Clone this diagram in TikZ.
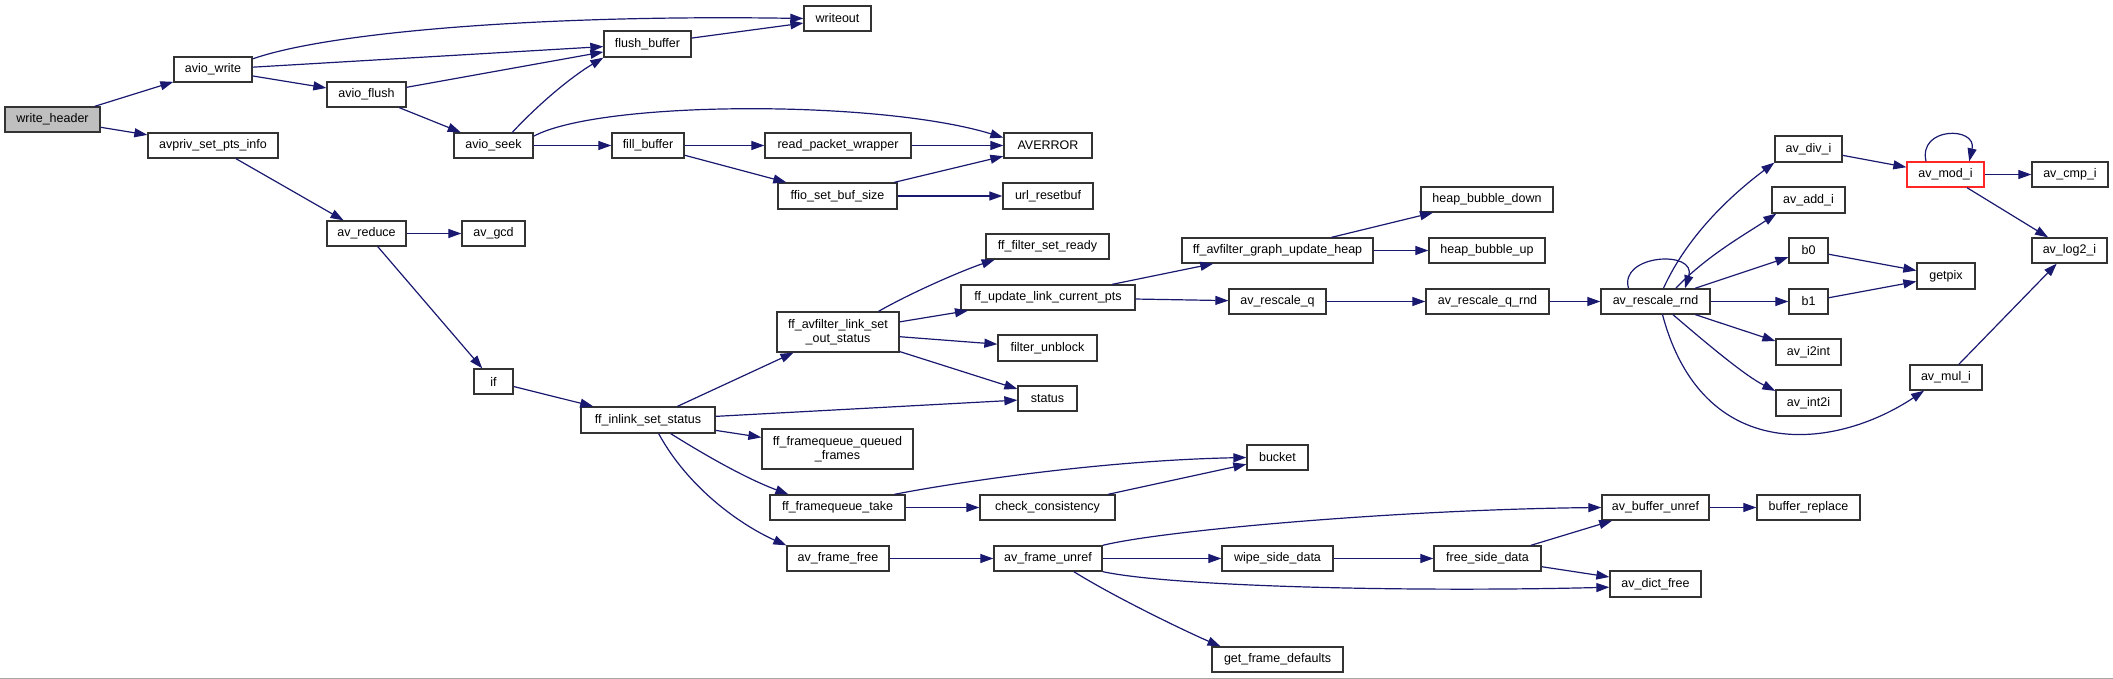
\documentclass[tikz,border=0pt]{standalone}
\usepackage{fontspec}
\setmainfont{Liberation Sans}
\usepackage{xcolor}
\usepackage{tikz}
\usetikzlibrary{arrows.meta}

\definecolor{navy}{HTML}{191970}

\begin{document}
\begin{tikzpicture}[
    x=1pt, y=-1pt,
    fn/.style={rectangle, draw=black!80, fill=white, line width=1.3pt, inner sep=0pt, minimum height=25pt, align=center, font=\fontsize{12.5}{14.5}\selectfont},
    root/.style={fn, fill=black!25},
    rec/.style={fn, draw=red!85!white},
    call/.style={-{Triangle[length=13pt, width=9pt]}, line width=1.2pt, draw=navy}
]
    \useasboundingbox (0,0) rectangle (2113,679);

    % callers on the left
    \node [root, minimum width=95pt] (writeheader) at (52.5,119.5) {write\_header};
    \node [fn, minimum width=78pt] (aviowrite) at (213,69.5) {avio\_write};
    \node [fn, minimum width=130pt] (avprivset) at (213,145.5) {avpriv\_set\_pts\_info};
    \node [fn, minimum width=79pt] (avioflush) at (366.5,94.5) {avio\_flush};
    \node [fn, minimum width=79pt] (avioseek) at (493.5,145.5) {avio\_seek};
    \node [fn, minimum width=87pt, minimum height=26pt] (flushbuf) at (647.5,44) {flush\_buffer};
    \node [fn, minimum width=67pt] (writeout) at (837.5,18.5) {writeout};
    \node [fn, minimum width=72pt] (fillbuf) at (648,145.5) {fill\_buffer};
    \node [fn, minimum width=146pt] (readpkt) at (838,145.5) {read\_packet\_wrapper};
    \node [fn, minimum width=88pt] (averror) at (1048,145.5) {AVERROR};
    \node [fn, minimum width=119pt, minimum height=26pt] (setbufsize) at (837.5,196) {ffio\_set\_buf\_size};
    \node [fn, minimum width=90pt, minimum height=26pt] (resetbuf) at (1048,196) {url\_resetbuf};
    \node [fn, minimum width=79pt] (avreduce) at (366.5,233.5) {av\_reduce};
    \node [fn, minimum width=63pt] (avgcd) at (493.5,233.5) {av\_gcd};
    \node [fn, minimum width=39pt] (iff) at (493.5,381.5) {if};

    % filter link part
    \node [fn, minimum width=134pt, minimum height=26pt] (inlinkset) at (648,420) {ff\_inlink\_set\_status};
    \node [fn, minimum width=122pt, minimum height=40pt] (linkset) at (838,332) {ff\_avfilter\_link\_set\\\_out\_status};
    \node [fn, minimum width=123pt] (setready) at (1047.5,246.5) {ff\_filter\_set\_ready};
    \node [fn, minimum width=174pt] (updatepts) at (1048,297.5) {ff\_update\_link\_current\_pts};
    \node [fn, minimum width=99pt, minimum height=26pt] (unblock) at (1047.5,348) {filter\_unblock};
    \node [fn, minimum width=59pt] (status) at (1047.5,398.5) {status};
    \node [fn, minimum width=151pt, minimum height=40pt] (queued) at (837.5,449) {ff\_framequeue\_queued\\\_frames};
    \node [fn, minimum width=135pt] (fqtake) at (837.5,507.5) {ff\_framequeue\_take};
    \node [fn, minimum width=135pt] (consistency) at (1047.5,507.5) {check\_consistency};
    \node [fn, minimum width=61pt] (bucket) at (1277.5,457.5) {bucket};

    % frame part
    \node [fn, minimum width=102pt] (framefree) at (838,558.5) {av\_frame\_free};
    \node [fn, minimum width=108pt] (frameunref) at (1048,558.5) {av\_frame\_unref};
    \node [fn, minimum width=111pt] (wipeside) at (1277.5,558.5) {wipe\_side\_data};
    \node [fn, minimum width=107pt] (freeside) at (1487.5,558.5) {free\_side\_data};
    \node [fn, minimum width=107pt] (bufunref) at (1655.5,507.5) {av\_buffer\_unref};
    \node [fn, minimum width=103pt] (bufreplace) at (1808.5,507.5) {buffer\_replace};
    \node [fn, minimum width=91pt, minimum height=26pt] (dictfree) at (1655.5,584) {av\_dict\_free};
    \node [fn, minimum width=131pt] (defaults) at (1277.5,659.5) {get\_frame\_defaults};

    % rescale and integer part
    \node [fn, minimum width=191pt] (updateheap) at (1277.5,250.5) {ff\_avfilter\_graph\_update\_heap};
    \node [fn, minimum width=132pt] (bubbledown) at (1487,199.5) {heap\_bubble\_down};
    \node [fn, minimum width=116pt] (bubbleup) at (1487,250.5) {heap\_bubble\_up};
    \node [fn, minimum width=97pt] (rescaleq) at (1277.5,301.5) {av\_rescale\_q};
    \node [fn, minimum width=123pt] (rescaleqrnd) at (1487.5,301.5) {av\_rescale\_q\_rnd};
    \node [fn, minimum width=109pt] (rescalernd) at (1655.5,301.5) {av\_rescale\_rnd};
    \node [fn, minimum width=67pt, minimum height=26pt] (divi) at (1808.5,149) {av\_div\_i};
    \node [fn, minimum width=73pt, minimum height=26pt] (addi) at (1808.5,200) {av\_add\_i};
    \node [fn, minimum width=39pt] (bzero) at (1808.5,250.5) {b0};
    \node [fn, minimum width=39pt] (bone) at (1808.5,301.5) {b1};
    \node [fn, minimum width=65pt, minimum height=26pt] (itoint) at (1808.5,352) {av\_i2int};
    \node [fn, minimum width=65pt, minimum height=26pt] (inttoi) at (1808.5,403) {av\_int2i};
    \node [rec, minimum width=77pt] (modi) at (1945.5,174.5) {av\_mod\_i};
    \node [fn, minimum width=58pt, minimum height=26pt] (getpix) at (1946,276) {getpix};
    \node [fn, minimum width=72pt] (muli) at (1946,377.5) {av\_mul\_i};
    \node [fn, minimum width=76pt] (cmpi) at (2070,174.5) {av\_cmp\_i};
    \node [fn, minimum width=75pt] (logtwoi) at (2069.5,250.5) {av\_log2\_i};

    % calls
    \draw [call] (writeheader) -- (aviowrite);
    \draw [call] (writeheader) -- (avprivset);
    \draw [call] (aviowrite.15) .. controls +(80,-28) and +(-250,-4) .. (writeout.west);
    \draw [call] (aviowrite) -- (flushbuf);
    \draw [call] (aviowrite) -- (avioflush);
    \draw [call] (avioflush) -- (flushbuf);
    \draw [call] (avioflush) -- (avioseek);
    \draw [call] (avioseek.35) .. controls +(30,-32) and +(-30,18) .. (flushbuf.south west);
    \draw [call] (avioseek.13) .. controls +(67,-36) and +(-124,-38) .. (averror.170);
    \draw [call] (avioseek) -- (fillbuf);
    \draw [call] (flushbuf) -- (writeout);
    \draw [call] (fillbuf) -- (readpkt);
    \draw [call] (fillbuf) -- (setbufsize);
    \draw [call] (readpkt) -- (averror);
    \draw [call] (setbufsize) -- (averror);
    \draw [call] (setbufsize) -- (resetbuf);
    \draw [call] (avprivset) -- (avreduce);
    \draw [call] (avreduce) -- (avgcd);
    \draw [call] (avreduce) -- (iff);
    \draw [call] (iff) -- (inlinkset);

    \draw [call] (inlinkset) -- (linkset);
    \draw [call] (inlinkset) -- (status);
    \draw [call] (inlinkset) -- (queued);
    \draw [call] (inlinkset.329) .. controls +(40,25) and +(-40,-15) .. (fqtake.165);
    \draw [call] (inlinkset.308) .. controls +(30,55) and +(-45,-20) .. (framefree.north west);
    \draw [call] (linkset.27) .. controls +(35,-20) and +(-30,10) .. (setready.194);
    \draw [call] (linkset) -- (updatepts);
    \draw [call] (linkset) -- (unblock);
    \draw [call] (linkset) -- (status);
    \draw [call] (updatepts) -- (updateheap);
    \draw [call] (updatepts) -- (rescaleq);
    \draw [call] (updateheap) -- (bubbledown);
    \draw [call] (updateheap) -- (bubbleup);
    \draw [call] (rescaleq) -- (rescaleqrnd);
    \draw [call] (rescaleqrnd) -- (rescalernd);

    \draw [call] (rescalernd.154) .. controls +(-10,-34) and +(12,-39) .. (rescalernd.24);
    \draw [call] (rescalernd.59) .. controls +(25,-55) and +(-40,30) .. (divi.south west);
    \draw [call] (rescalernd.33) .. controls +(30,-32) and +(-30,20) .. (addi.203);
    \draw [call] (rescalernd) -- (bzero);
    \draw [call] (rescalernd) -- (bone);
    \draw [call] (rescalernd) -- (itoint);
    \draw [call] (rescalernd.323) .. controls +(35,30) and +(-30,-15) .. (inttoi.160);
    \draw [call] (rescalernd.298) .. controls +(40,150) and +(-90,60) .. (muli.211);
    \draw [call] (divi) -- (modi);
    \draw [call] (modi.146) .. controls +(-8,-35) and +(8,-35) .. (modi.29);
    \draw [call] (modi) -- (cmpi);
    \draw [call] (modi) -- (logtwoi);
    \draw [call] (muli) -- (logtwoi);
    \draw [call] (bzero) -- (getpix);
    \draw [call] (bone) -- (getpix);

    \draw [call] (fqtake.13) .. controls +(50,-10) and +(-150,3) .. (bucket.west);
    \draw [call] (fqtake) -- (consistency);
    \draw [call] (consistency) -- (bucket);
    \draw [call] (framefree) -- (frameunref);
    \draw [call] (frameunref.north east) .. controls +(60,-15) and +(-200,2) .. (bufunref.west);
    \draw [call] (frameunref) -- (wipeside);
    \draw [call] (frameunref.south east) .. controls +(70,15) and +(-200,5) .. (dictfree.184);
    \draw [call] (frameunref.333) .. controls +(40,25) and +(-35,-15) .. (defaults.167);
    \draw [call] (wipeside) -- (freeside);
    \draw [call] (freeside) -- (bufunref);
    \draw [call] (freeside) -- (dictfree);
    \draw [call] (bufunref) -- (bufreplace);

    \draw [black!35, line width=1pt] (0,678) -- (2113,678);
\end{tikzpicture}
\end{document}
